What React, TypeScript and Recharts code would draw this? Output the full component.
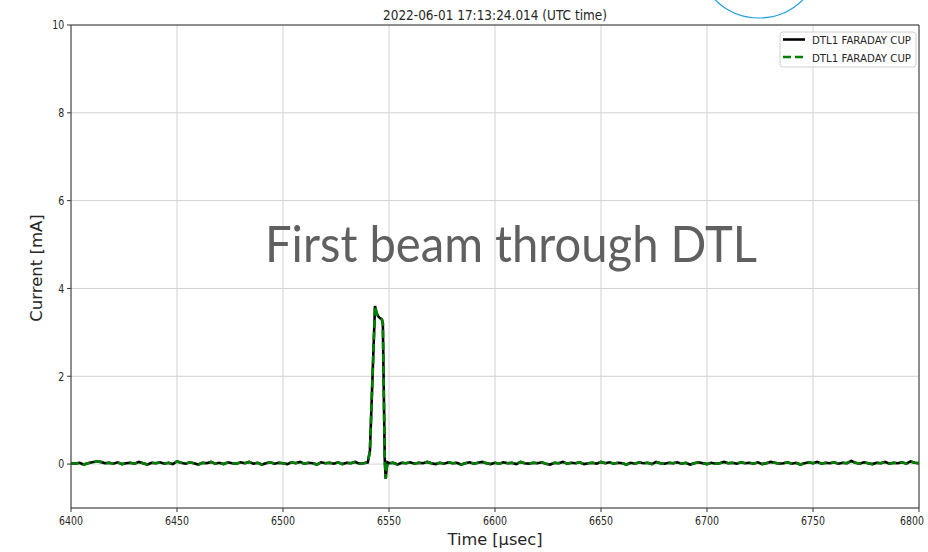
import React from 'react';
import { LineChart, Line, XAxis, YAxis, CartesianGrid, ReferenceLine } from 'recharts';

// baseline samples, one every 2 µsec from 6400 to 6800
const baseStart = 6400;
const baseStep = 2;
const baseline = [
  0.02, 0.01, 0.03, -0.01, 0.02, 0.04, 0.06, 0.05, 0.02, 0.03,
  0.01, 0.04, 0.00, 0.02, 0.03, 0.01, 0.05, 0.02, -0.01, 0.03,
  0.02, 0.04, 0.01, 0.03, 0.00, 0.06, 0.03, 0.01, 0.04, 0.02,
  -0.01, 0.03, 0.02, 0.05, 0.01, 0.03, 0.00, 0.04, 0.02, 0.01,
  0.04, 0.02, 0.05, 0.01, 0.03, -0.01, 0.02, 0.04, 0.01, 0.03,
  0.02, 0.00, 0.04, 0.02, 0.05, 0.01, 0.03, 0.02, -0.01, 0.04,
  0.02, 0.03, 0.01, 0.04, 0.00, 0.03, 0.02, 0.05, 0.01, 0.02,
  0.02, 0.03, 0.02, 0.04, 0.01, 0.02, 0.03, -0.01, 0.03, 0.02,
  0.04, 0.01, 0.03, 0.02, 0.05, 0.02, 0.00, 0.03, 0.01, 0.04,
  0.02, 0.03, -0.01, 0.02, 0.04, 0.01, 0.03, 0.05, 0.02, 0.00,
  0.03, 0.01, 0.04, 0.02, 0.03, 0.00, 0.05, 0.02, 0.01, 0.03,
  0.02, 0.04, 0.01, -0.01, 0.03, 0.02, 0.05, 0.01, 0.03, 0.02,
  0.04, 0.00, 0.02, 0.03, 0.01, 0.05, 0.02, 0.04, 0.01, 0.03,
  0.02, -0.01, 0.03, 0.01, 0.04, 0.02, 0.03, 0.00, 0.05, 0.02,
  0.01, 0.03, 0.02, 0.04, 0.01, 0.03, -0.01, 0.02, 0.04, 0.02,
  0.00, 0.03, 0.01, 0.02, 0.05, 0.02, 0.03, 0.01, 0.04, 0.02,
  0.03, 0.01, 0.04, 0.00, 0.02, 0.05, 0.03, 0.01, 0.02, 0.04,
  0.01, 0.03, -0.01, 0.02, 0.04, 0.02, 0.05, 0.01, 0.03, 0.02,
  0.04, 0.01, 0.03, 0.02, 0.07, 0.03, 0.01, 0.04, 0.02, 0.00,
  0.03, 0.02, 0.05, 0.01, 0.03, 0.02, 0.04, 0.01, 0.06, 0.03,
  0.02,
];

// the beam pulse, sampled finer
const pulseTimes = [6540, 6541, 6543.4, 6544.2, 6545, 6545.8, 6546.6, 6547.1, 6547.5, 6548, 6548.45, 6548.8, 6549.3, 6550];
const pulseValues = [0.04, 0.3, 3.6, 3.43, 3.36, 3.32, 3.3, 3.2, 1.8, 0.1, -0.33, -0.15, 0.04, 0.02];

const xTicks = [6400, 6450, 6500, 6550, 6600, 6650, 6700, 6750, 6800];
const yTicks = [0, 2, 4, 6, 8, 10];

const title = '2022-06-01 17:13:24.014 (UTC time)';
const seriesName = 'DTL1 FARADAY CUP';

const points = baseline
  .map((v, i) => ({ t: baseStart + i * baseStep, v }))
  .filter((p) => p.t < pulseTimes[0] || p.t > pulseTimes[pulseTimes.length - 1])
  .concat(pulseTimes.map((t, i) => ({ t, v: pulseValues[i] })))
  .sort((a, b) => a.t - b.t);

const data = points.map((p) => ({ t: p.t, cup: p.v, cup2: p.v }));

const mpl = 'DejaVu Sans';

const XTick = (props: any) => {
  const { x, y, payload } = props;
  return (
    <text transform={`translate(${x},${y}) scale(0.82,1)`} x={0} y={11} textAnchor="middle"
      fontSize={11.5} fontFamily={mpl} fill="#262626">
      {payload.value}
    </text>
  );
};

const YTick = (props: any) => {
  const { x, y, payload } = props;
  return (
    <text transform={`translate(${x},${y}) scale(0.82,1)`} x={-1} y={4.3} textAnchor="end"
      fontSize={11.5} fontFamily={mpl} fill="#262626">
      {payload.value}
    </text>
  );
};

export default function App() {
  return (
    <div style={{ position: 'absolute', left: 0, top: 0, width: 928, height: 552, background: '#fff' }}>
      <LineChart width={928} height={552} data={data} margin={{ top: 25, right: 9, bottom: 14, left: 21 }}>
        <CartesianGrid stroke="#d2d2d2" strokeWidth={1} />
        <XAxis dataKey="t" type="number" domain={[6400, 6800]} ticks={xTicks} height={30}
          stroke="#333" tickSize={4} tick={<XTick />} allowDataOverflow />
        <YAxis type="number" domain={[-1, 10]} ticks={yTicks} width={50}
          stroke="#333" tickSize={4} tick={<YTick />} allowDataOverflow />
        <ReferenceLine y={10} stroke="#333" strokeWidth={1} />
        <ReferenceLine x={6800} stroke="#333" strokeWidth={1} />
        <Line type="linear" dataKey="cup" name={seriesName} stroke="#000" strokeWidth={2.6}
          dot={false} isAnimationActive={false} />
        <Line type="linear" dataKey="cup2" name={seriesName} stroke="#008000" strokeWidth={2.6}
          strokeDasharray="8 4" dot={false} isAnimationActive={false} />
      </LineChart>
      <svg width={928} height={552} style={{ position: 'absolute', left: 0, top: 0, pointerEvents: 'none' }}>
        <circle cx={759} cy={-44} r={62} fill="none" stroke="#1a9be0" strokeWidth={1.2} />
        <text x={383} y={19.5} fontSize={14} fontFamily={mpl} fill="#262626" textLength={224}
          lengthAdjust="spacingAndGlyphs">{title}</text>
        <text x={265} y={262} fontSize={50} fontFamily="Lato" fill="#606060" textLength={492}
          lengthAdjust="spacingAndGlyphs">First beam through DTL</text>
        <text transform="translate(42,268) rotate(-90)" textAnchor="middle" fontSize={16.5}
          fontFamily={mpl} fill="#262626">Current [mA]</text>
        <text x={495} y={545} textAnchor="middle" fontSize={16} fontFamily={mpl} fill="#262626"
          textLength={95} lengthAdjust="spacingAndGlyphs">Time [µsec]</text>
        <g>
          <rect x={780} y={32} width={136} height={35} rx={3} fill="#fff" fillOpacity={0.8} stroke="#d0d0d0" />
          <line x1={783} y1={39.5} x2={805} y2={39.5} stroke="#000" strokeWidth={2.6} />
          <line x1={783} y1={57} x2={805} y2={57} stroke="#008000" strokeWidth={2.6} strokeDasharray="8 4" />
          <text x={812} y={44} fontSize={11} fontFamily={mpl} fill="#262626" textLength={99}
            lengthAdjust="spacingAndGlyphs">{seriesName}</text>
          <text x={812} y={61.5} fontSize={11} fontFamily={mpl} fill="#262626" textLength={99}
            lengthAdjust="spacingAndGlyphs">{seriesName}</text>
        </g>
      </svg>
    </div>
  );
}
